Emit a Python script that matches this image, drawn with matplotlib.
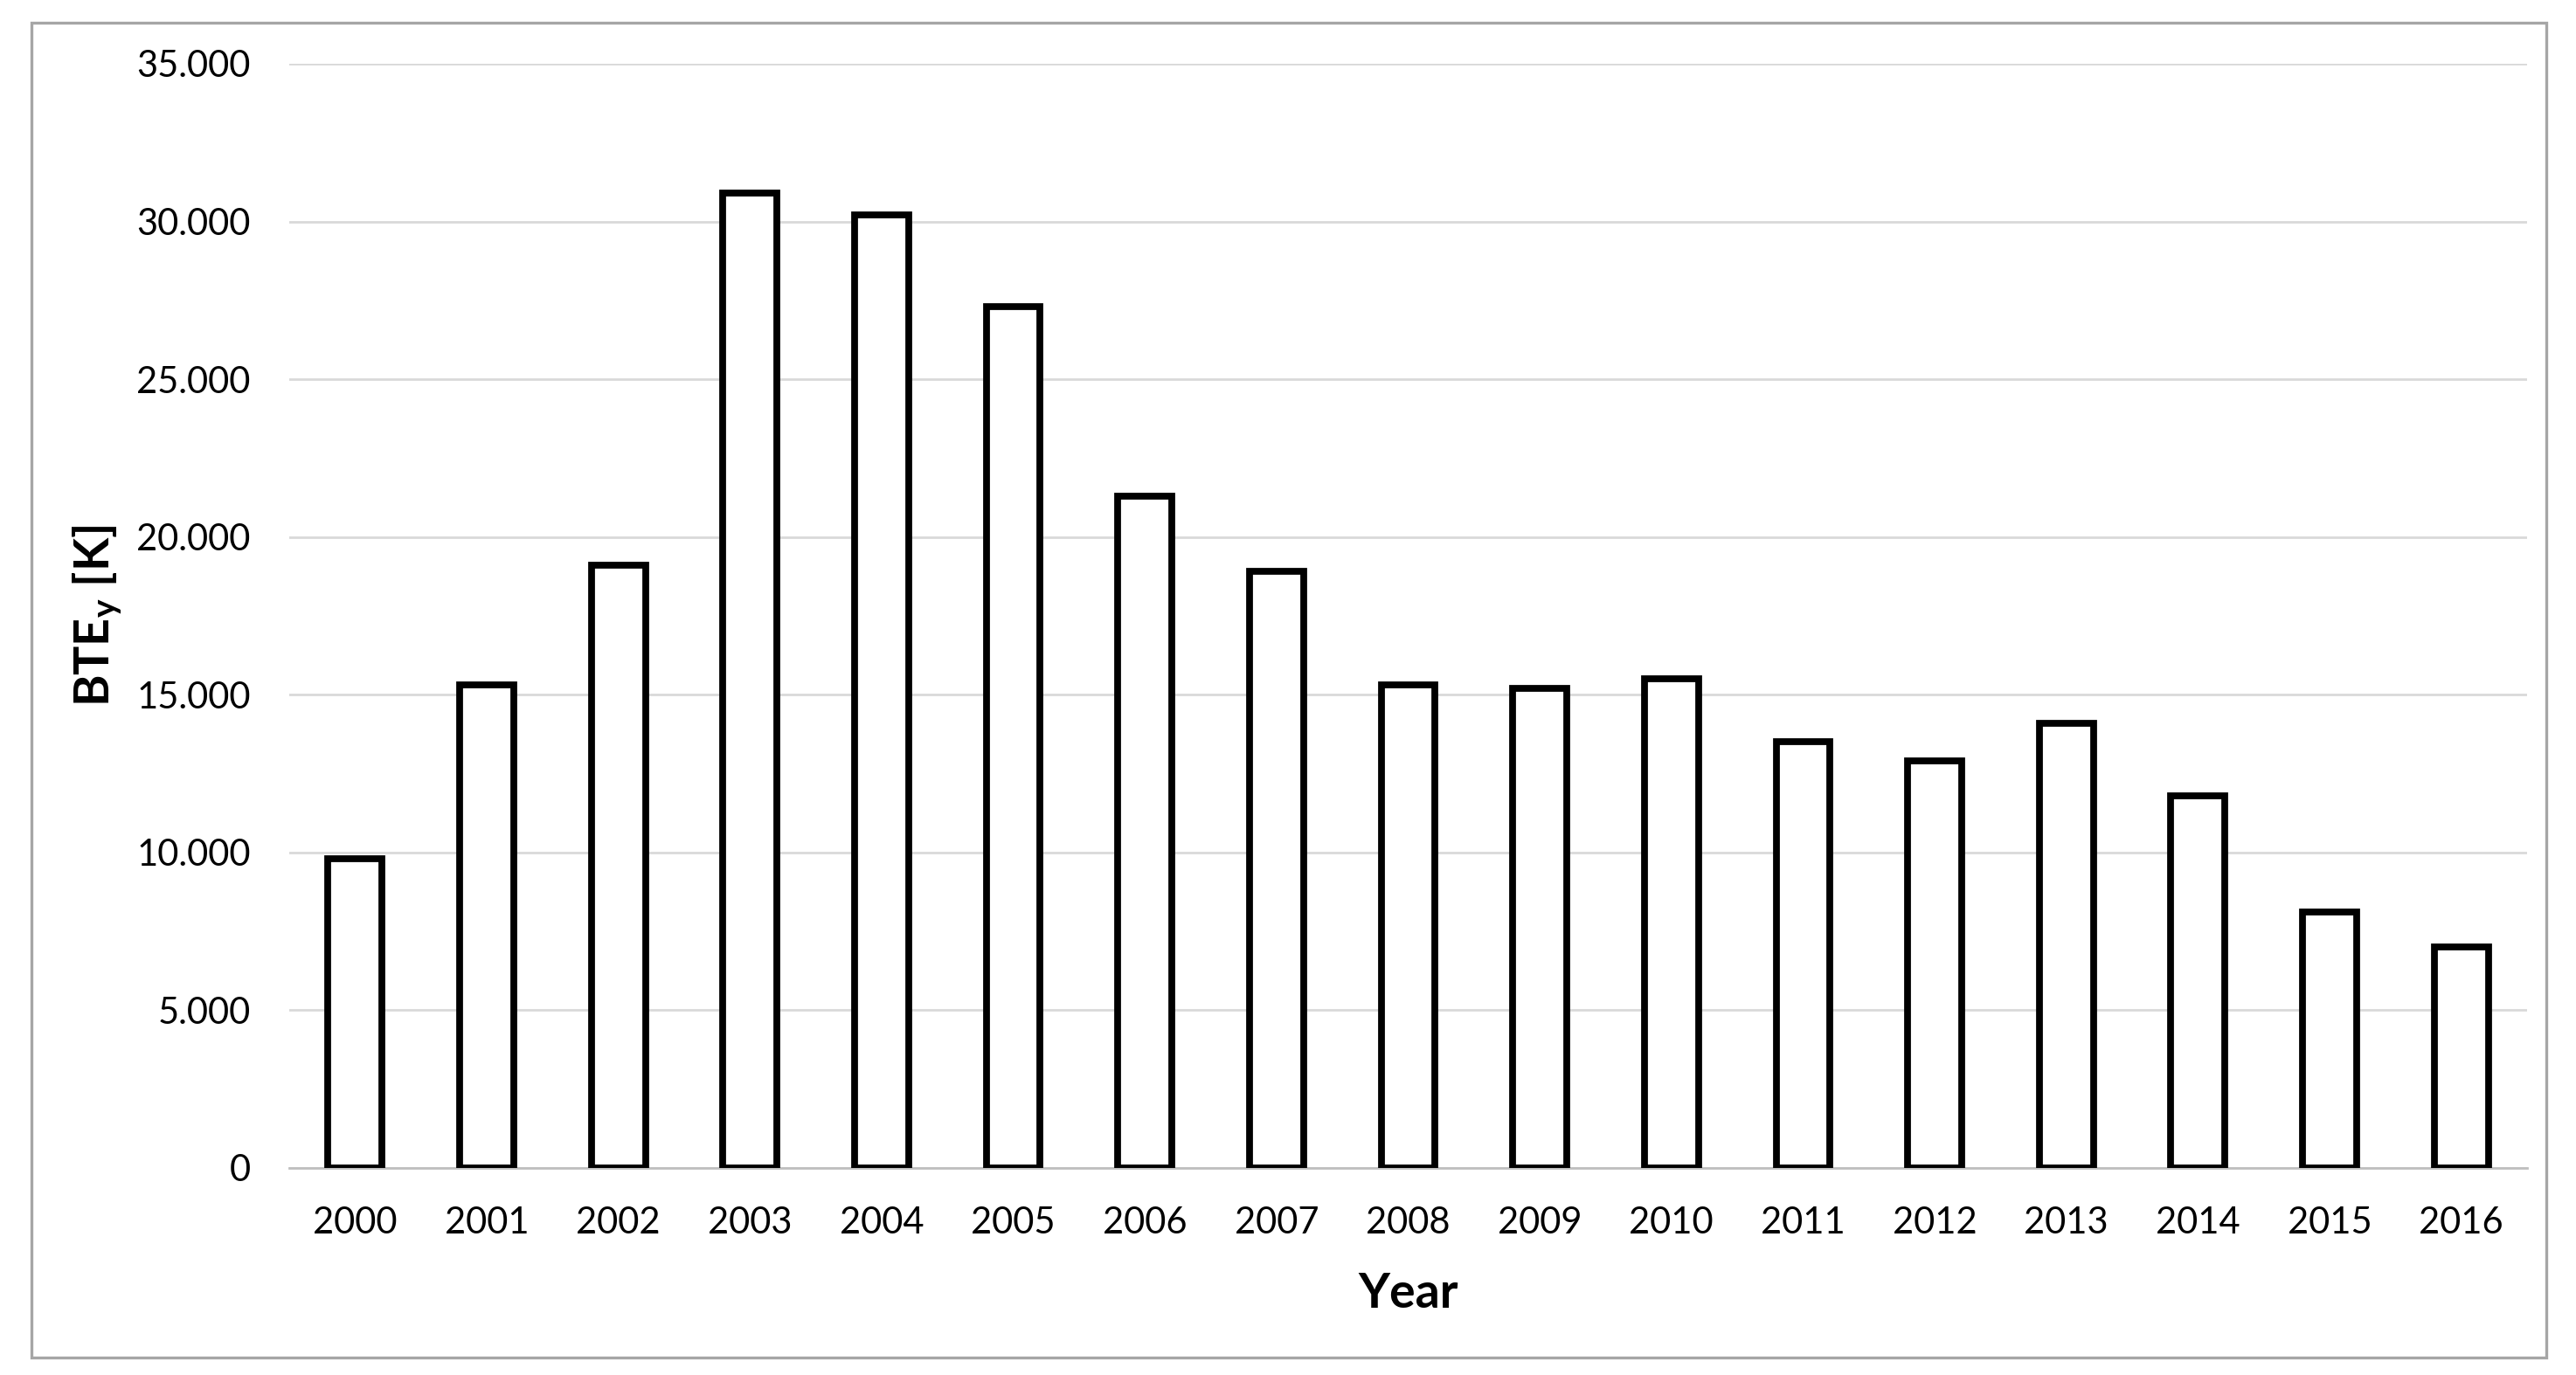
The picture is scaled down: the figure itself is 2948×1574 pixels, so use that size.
import matplotlib
matplotlib.use("Agg")
import matplotlib.pyplot as plt
from matplotlib.patches import Rectangle
from matplotlib.ticker import FuncFormatter, MultipleLocator

years = ["2000", "2001", "2002", "2003", "2004", "2005", "2006", "2007", "2008",
         "2009", "2010", "2011", "2012", "2013", "2014", "2015", "2016"]
bte = [9800, 15300, 19100, 30900, 30200, 27300, 21300, 18900, 15300,
       15200, 15500, 13500, 12900, 14100, 11800, 8100, 7000]

plt.rcParams['font.family'] = ['Lato', 'DejaVu Sans']
plt.rcParams['mathtext.fontset'] = 'custom'
plt.rcParams['mathtext.rm'] = 'Lato'
plt.rcParams['mathtext.bf'] = 'Lato:bold'
plt.rcParams['mathtext.it'] = 'Lato:italic'

DPI = 200
fig = plt.figure(figsize=(2948 / DPI, 1574 / DPI), dpi=DPI)
ax = fig.add_axes([331 / 2948, 1 - 1337 / 1574, (2892 - 331) / 2948, (1337 - 73) / 1574])

x = list(range(len(years)))
ax.bar(x, bte, width=0.41, color="white", edgecolor="black", linewidth=2.8, zorder=3)

ax.set_xlim(-0.5, len(years) - 0.5)
ax.set_ylim(0, 35000)
ax.yaxis.set_major_locator(MultipleLocator(5000))
ax.yaxis.set_major_formatter(FuncFormatter(lambda v, p: f"{int(v):,}".replace(",", ".")))
ax.set_xticks(x)
ax.set_xticklabels(years)

ax.grid(axis="y", color="#d9d9d9", linewidth=1.0, zorder=0)
for s in ["top", "right", "left"]:
    ax.spines[s].set_visible(False)
ax.spines["bottom"].set_color("#bfbfbf")
ax.spines["bottom"].set_linewidth(1.0)
ax.spines["bottom"].set_zorder(2)
ax.tick_params(axis="both", length=0, labelsize=15, colors="#000000")
ax.tick_params(axis="y", pad=16)
ax.tick_params(axis="x", pad=16)

ax.set_xlabel("Year", fontsize=20, fontweight="bold", labelpad=13)
ax.set_ylabel(r"BTE$_{\mathbf{y}}$ [K]", fontsize=20, fontweight="bold", labelpad=5)

fig.add_artist(Rectangle((36 / 2948, 1 - 1554 / 1574), (2914 - 36) / 2948, (1554 - 26) / 1574,
                         transform=fig.transFigure, fill=False, edgecolor="#a6a6a6", linewidth=1.2))

fig.savefig("out.png", dpi=DPI, facecolor="white")
